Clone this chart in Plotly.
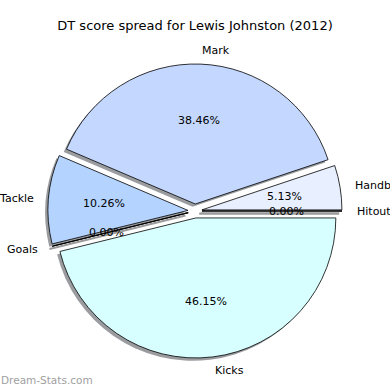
import numpy as np
import plotly.graph_objects as go

labels = ["Hitout", "Handball", "Mark", "Tackle", "Goals", "Kicks"]
values = [0, 2, 15, 4, 0, 18]
colors = ["#f0f4ff", "#e8f0ff", "#c4d8ff", "#b4d4ff", "#a8c8ff", "#d8ffff"]
explode = [0.05] * 6
title = "DT score spread for Lewis Johnston (2012)"
watermark = "Dream-Stats.com"

W = H = 390
cx, cy, r = 195, 211, 140          # pie centre / radius in pixels
R = r * 1.05
shadow_px = 0.02 * r
FONT = "DejaVu Sans"


def dom(dx=0.0, dy=0.0):
    return dict(x=[(cx - R + dx) / W, (cx + R + dx) / W],
                y=[(H - cy - R - dy) / H, (H - cy + R - dy) / H])


common = dict(labels=labels, values=values, sort=False, direction="counterclockwise",
              rotation=90, pull=explode, hoverinfo="skip", textinfo="none")

fig = go.Figure()

# wedge geometry (as matplotlib's pie computes it)
v = np.array(values, dtype=float)
frac = v / v.sum()
theta1 = np.concatenate([[0.0], np.cumsum(frac)[:-1]]) * 2 * np.pi
thetam = theta1 + frac * np.pi
ex = np.array(explode)
ox, oy = ex * np.cos(thetam), ex * np.sin(thetam)

# zero-width wedges drawn as radial lines
zx, zy, sx, sy = [], [], [], []
for i, val in enumerate(values):
    if val == 0:
        zx += [ox[i], ox[i] + np.cos(thetam[i]), None]
        zy += [oy[i], oy[i] + np.sin(thetam[i]), None]
        sx += [ox[i] - 0.02, ox[i] - 0.02 + np.cos(thetam[i]), None]
        sy += [oy[i] - 0.02, oy[i] - 0.02 + np.sin(thetam[i]), None]
fig.add_trace(go.Scatter(x=sx, y=sy, mode="lines", line=dict(color="#9a9a9a", width=2),
                         hoverinfo="skip", showlegend=False))
fig.add_trace(go.Scatter(x=zx, y=zy, mode="lines", line=dict(color="black", width=1.2),
                         hoverinfo="skip", showlegend=False))

# shadow + slices
fig.add_trace(go.Pie(**common, domain=dom(-shadow_px, shadow_px),
                     marker=dict(colors=["#9a9ca0"] * 6, line=dict(width=0))))
fig.add_trace(go.Pie(**common, domain=dom(),
                     marker=dict(colors=colors, line=dict(color="black", width=0.8))))

annotations = []
for i, lab in enumerate(labels):
    c, s = np.cos(thetam[i]), np.sin(thetam[i])
    lx, ly = ox[i] + 1.1 * c, oy[i] + 1.1 * s
    annotations.append(dict(x=lx, y=ly, xref="x", yref="y", text=lab, showarrow=False,
                            xanchor="left" if lx > 0 else "right", yanchor="middle",
                            borderpad=0, font=dict(family=FONT, size=11, color="black")))
    px, py = ox[i] + 0.6 * c, oy[i] + 0.6 * s
    annotations.append(dict(x=px, y=py, xref="x", yref="y", text=f"{frac[i] * 100:.2f}%",
                            showarrow=False, xanchor="center", yanchor="middle", borderpad=0,
                            font=dict(family=FONT, size=11, color="black")))
annotations.append(dict(text=watermark, x=0, y=(H - 380) / H, xref="paper", yref="paper",
                        xanchor="left", yanchor="middle", showarrow=False, borderpad=0,
                        font=dict(family=FONT, size=10.5, color="#a0a0a0")))

# hidden axes span the whole figure; 1 unit = pie radius
xr = [(0 - cx) / r, (W - cx) / r]
yr = [-(H - cy) / r, cy / r]
fig.update_layout(
    width=W, height=H, margin=dict(l=0, r=0, t=0, b=0, pad=0, autoexpand=False),
    paper_bgcolor="white", plot_bgcolor="white", showlegend=False,
    xaxis=dict(domain=[0, 1], range=xr, visible=False, fixedrange=True),
    yaxis=dict(domain=[0, 1], range=yr, visible=False, fixedrange=True),
    title=dict(text=title, x=0.5, xanchor="center", y=1 - 25 / H, yanchor="middle",
               font=dict(family=FONT, size=13, color="black")),
    annotations=annotations,
)
fig.write_html("out.html", config={"displayModeBar": False},
               post_script="document.body.style.margin='0';")
